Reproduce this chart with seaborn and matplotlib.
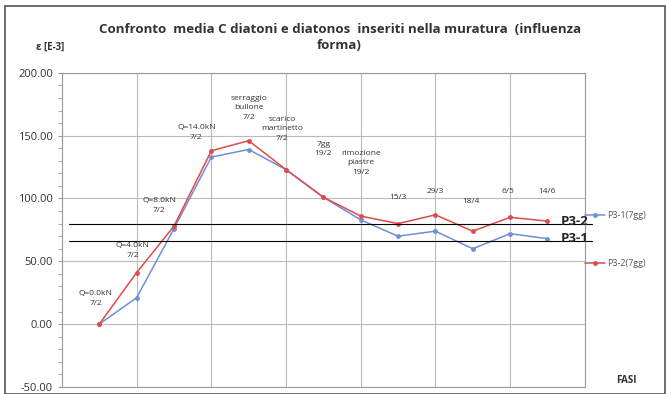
import pandas as pd
import matplotlib.pyplot as plt
import seaborn as sns
from matplotlib.ticker import MultipleLocator, FormatStrFormatter

# Data
fasi = list(range(1, 14))
p31 = [0, 21, 76, 133, 139, 123, 101, 83, 70, 74, 60, 72, 68]
p32 = [0, 41, 78, 138, 146, 123, 101, 86, 80, 87, 74, 85, 82]
etichette = ["Q=0.0kN\n7/2", "Q=4.0kN\n7/2", "Q=8.0kN\n7/2", "Q=14.0kN\n7/2",
             "serraggio\nbullone\n7/2", "scarico\nmartinetto\n7/2", "7gg\n19/2",
             "rimozione\npiastre\n19/2", "15/3", "29/3", "18/4", "6/5", "14/6"]
label_y = [14, 52, 88, 146, 162, 145, 133, 118, 98, 103, 95, 103, 103]
label_dx = [-0.1, -0.1, -0.4, -0.4, 0, -0.1, 0, 0, 0, 0, -0.05, -0.05, 0]
livelli = {"P3-2": 80, "P3-1": 66}

df = pd.DataFrame({"fase": fasi * 2,
                   "eps": p31 + p32,
                   "serie": ["P3-1(7gg)"] * 13 + ["P3-2(7gg)"] * 13})

sns.set_style("white")
plt.rcParams['font.family'] = ['Open Sans', 'DejaVu Sans']

fig = plt.figure(figsize=(6.66, 3.94), dpi=100)
ax = fig.add_axes([0.093, 0.018, 0.785, 0.797])

colori = {"P3-1(7gg)": "#6f8fd8", "P3-2(7gg)": "#df4a4a"}
sns.lineplot(data=df, x="fase", y="eps", hue="serie", palette=colori,
             marker="o", markersize=3.5, markeredgewidth=0, linewidth=1.1, ax=ax)

ax.set_xlim(0, 14)
ax.set_ylim(-50, 200)
ax.xaxis.set_major_locator(MultipleLocator(2))
ax.yaxis.set_major_locator(MultipleLocator(50))
ax.yaxis.set_minor_locator(MultipleLocator(10))
ax.yaxis.set_major_formatter(FormatStrFormatter("%.2f"))
ax.set_xticklabels([])
ax.tick_params(axis="x", length=0)
ax.tick_params(axis="y", which="both", left=True, length=3, color="#999999",
               labelsize=8, labelcolor="#333333")
ax.grid(True, which="major", color="#bbbbbb", linewidth=0.8)
for s in ax.spines.values():
    s.set_color("#999999")
ax.set_xlabel("")
ax.set_ylabel("")

# reference lines
for nome, val in livelli.items():
    ax.plot([0.2, 14.2], [val, val], color="black", linewidth=0.8, clip_on=False)
    ax.text(13.35, val + 2, nome, fontsize=9.5, fontweight="bold", va="center",
            ha="left", clip_on=False)

for x, y, t, dx in zip(fasi, label_y, etichette, label_dx):
    ax.text(x + dx, y, t, fontsize=6, ha="center", va="bottom", color="#333333",
            linespacing=1.5)

# legend on right
ax.legend(loc="upper left", bbox_to_anchor=(0.985, 0.585), frameon=False,
          fontsize=6.5, handlelength=2.2, handletextpad=0.3, labelspacing=4.3,
          labelcolor="#555555")

fig.text(0.51, 0.905, "Confronto  media C diatoni e diatonos  inseriti nella muratura  (influenza\nforma)",
         ha="center", va="center", fontsize=9.5, fontweight="bold", color="#333333",
         linespacing=1.3)
fig.text(0.075, 0.88, "ε [E-3]", ha="center", va="center", fontsize=7,
         fontweight="bold", color="#333333")
fig.text(0.94, 0.035, "FASI", ha="center", va="center", fontsize=7,
         fontweight="bold", color="#333333")

fig.patches.append(plt.Rectangle((0.008, 0.0), 0.99, 0.985, transform=fig.transFigure,
                                 fill=False, edgecolor="#555555", linewidth=1.2))

fig.savefig("out.png", dpi=100)
